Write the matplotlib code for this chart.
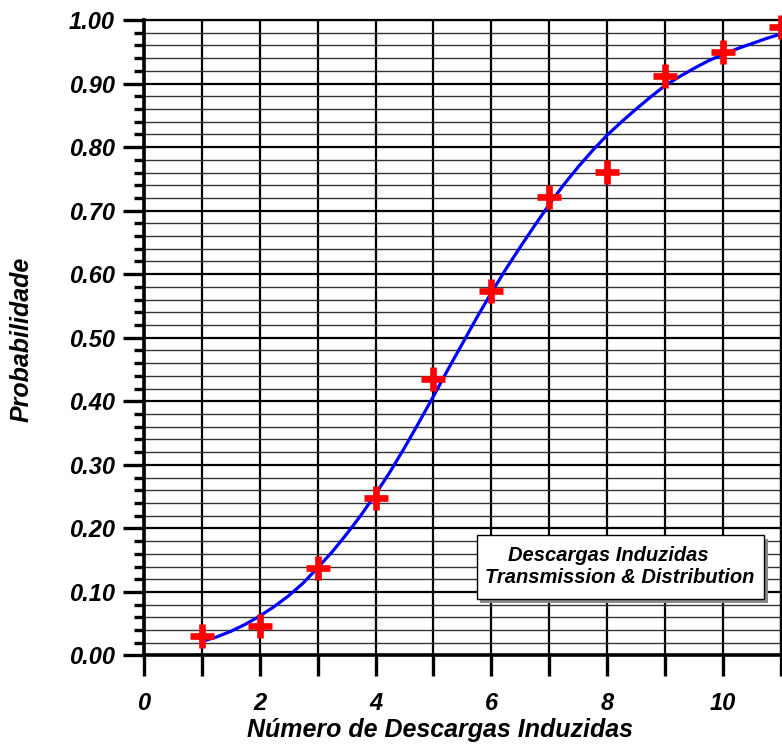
import matplotlib
matplotlib.use('Agg')
import matplotlib.pyplot as plt
from matplotlib.ticker import MultipleLocator
from matplotlib.patches import Rectangle

plt.rcParams['font.family'] = ['Liberation Sans', 'DejaVu Sans']

# observed probabilities
n_descargas = [1, 2, 3, 4, 5, 6, 7, 8, 9, 10, 11]
prob_obs = [0.030, 0.047, 0.138, 0.248, 0.435, 0.574, 0.722, 0.761, 0.912, 0.950, 0.989]

# fitted curve, every 0.25
curve_x = [1.00, 1.25, 1.50, 1.75, 2.00, 2.25, 2.50, 2.75, 3.00, 3.25, 3.50,
           3.75, 4.00, 4.25, 4.50, 4.75, 5.00, 5.25, 5.50, 5.75, 6.00,
           6.25, 6.50, 6.75, 7.00, 7.25, 7.50, 7.75, 8.00, 8.25, 8.50,
           8.75, 9.00, 9.25, 9.50, 9.75, 10.00, 10.25, 10.50, 10.75, 11.00]
curve_y = [0.022, 0.029, 0.038, 0.049, 0.062, 0.077, 0.094, 0.114, 0.138, 0.163, 0.191,
           0.221, 0.254, 0.289, 0.327, 0.367, 0.408, 0.450, 0.491, 0.532, 0.571,
           0.608, 0.643, 0.677, 0.710, 0.741, 0.769, 0.795, 0.819, 0.840, 0.860,
           0.879, 0.897, 0.911, 0.924, 0.936, 0.946, 0.955, 0.963, 0.971, 0.978]

legend_lines = ['Descargas Induzidas', 'Transmission & Distribution']

fig = plt.figure(figsize=(7.82, 7.47), dpi=100)
ax = fig.add_axes([0.184, 0.1225, 0.8147, 0.8507])

ax.set_xlim(0, 11)
ax.set_ylim(0, 1)

ax.xaxis.set_major_locator(MultipleLocator(2))
ax.xaxis.set_minor_locator(MultipleLocator(1))
ax.yaxis.set_major_locator(MultipleLocator(0.1))
ax.yaxis.set_minor_locator(MultipleLocator(0.02))
ax.yaxis.set_major_formatter(lambda v, p: f'{v:.2f}')

ax.grid(which='major', axis='y', color='black', lw=1.6)
ax.grid(which='minor', axis='y', color='#333333', lw=1.0)
ax.grid(which='both', axis='x', color='black', lw=1.6)
ax.set_axisbelow(True)

for s in ['left', 'bottom']:
    ax.spines[s].set_linewidth(2.6)
for s in ['top', 'right']:
    ax.spines[s].set_linewidth(1.6)

ax.tick_params(which='both', direction='out', width=2.4, color='black')
ax.tick_params(axis='y', which='major', length=15, pad=6)
ax.tick_params(axis='y', which='minor', length=7.5)
ax.tick_params(axis='x', which='both', length=15, pad=11)
for lab in ax.get_xticklabels() + ax.get_yticklabels():
    lab.set_fontsize(17)
    lab.set_fontweight('bold')
    lab.set_fontstyle('italic')

ax.plot(curve_x, curve_y, color='#0000ff', lw=2.3, zorder=3)
ax.plot(n_descargas, prob_obs, linestyle='none', marker='+', markersize=17,
        markeredgewidth=4.8, color='#ff0000', clip_on=False, zorder=4)

# legend box with shadow
ax.add_patch(Rectangle((0.527, 0.083), 0.452, 0.1006, transform=ax.transAxes,
                       facecolor='#888888', edgecolor='none', zorder=5))
ax.add_patch(Rectangle((0.5224, 0.0889), 0.4516, 0.1007, transform=ax.transAxes,
                       facecolor='white', edgecolor='black', lw=1.0, zorder=6))
ax.text(0.5713, 0.158, legend_lines[0], transform=ax.transAxes, ha='left', va='center',
        fontsize=14.5, fontweight='bold', fontstyle='italic', zorder=7)
ax.text(0.536, 0.1235, legend_lines[1], transform=ax.transAxes, ha='left', va='center',
        fontsize=14.5, fontweight='bold', fontstyle='italic', zorder=7)

fig.text(440 / 782, 1 - 730 / 747, 'Número de Descargas Induzidas', ha='center', va='center',
         fontsize=18, fontweight='bold', fontstyle='italic')
fig.text(22 / 782, 1 - 339 / 747, 'Probabilidade', ha='center', va='center', rotation=90,
         fontsize=18, fontweight='bold', fontstyle='italic')

fig.savefig('out.png', dpi=100)
